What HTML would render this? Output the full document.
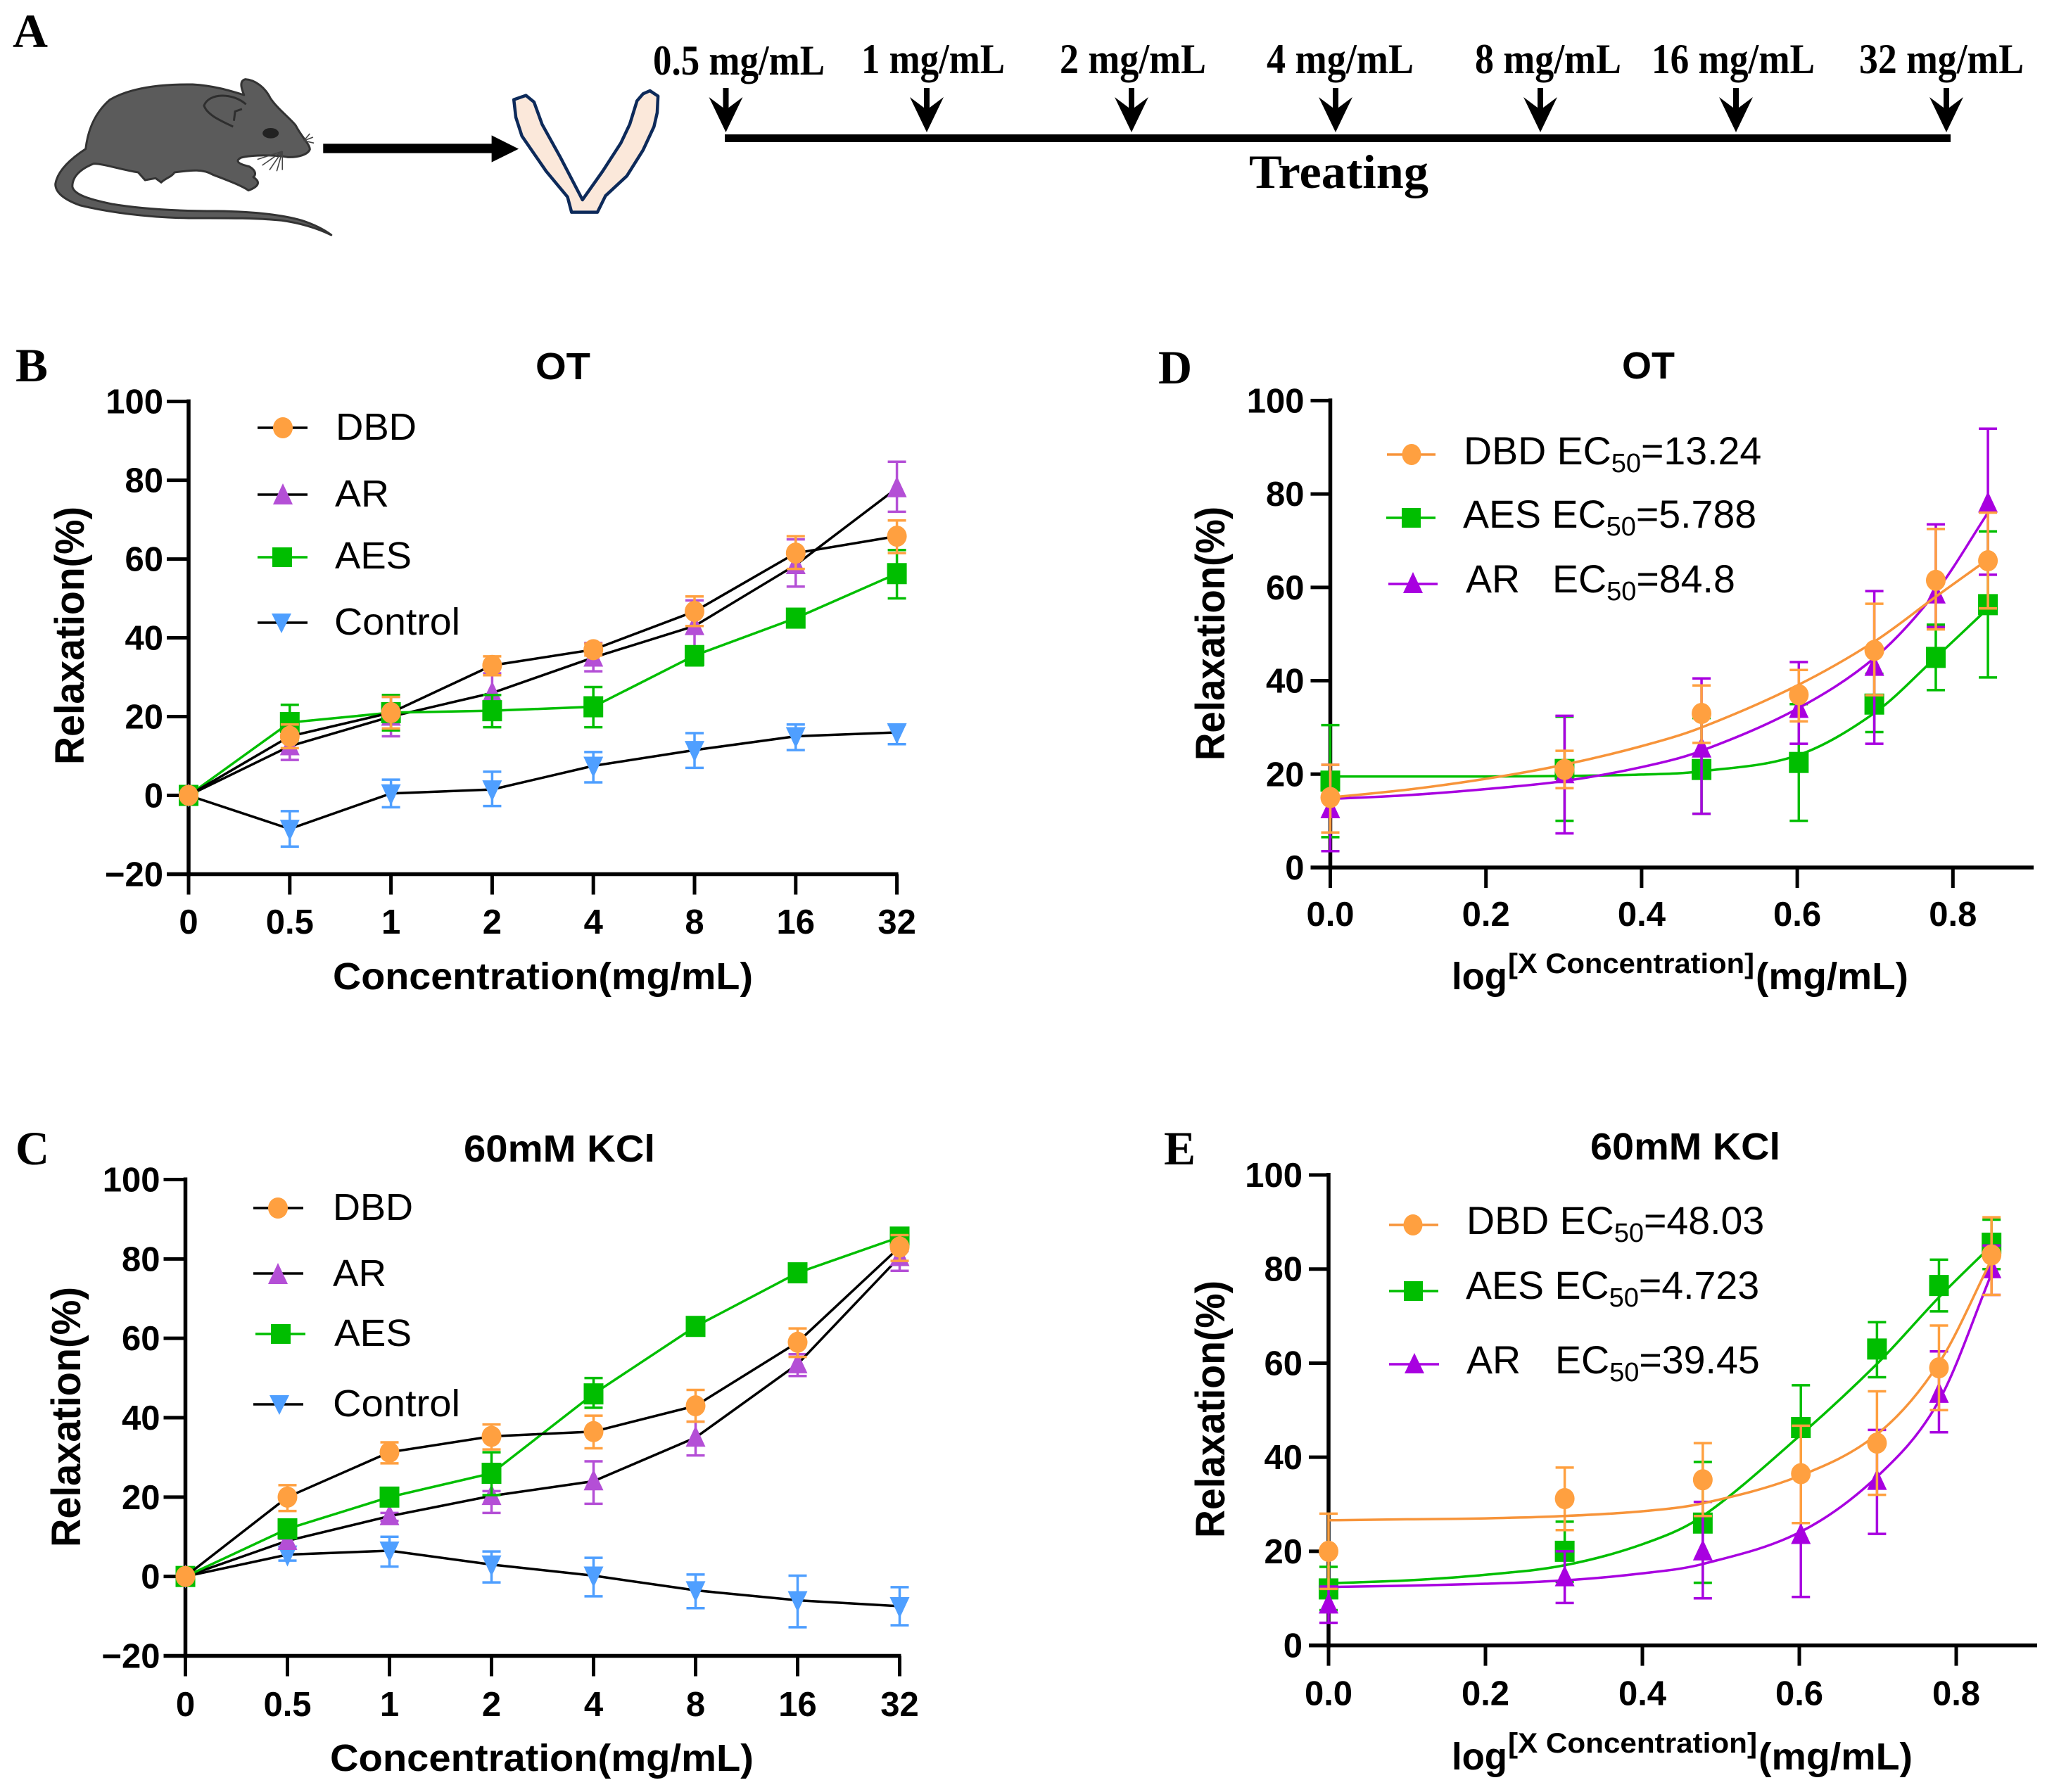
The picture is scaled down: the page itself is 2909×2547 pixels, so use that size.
<!DOCTYPE html>
<html lang="en">
<head>
<meta charset="utf-8">
<title>Relaxation dose-response figure</title>
<style>
html,body{margin:0;padding:0;background:#fff}
svg{display:block}
text{fill:#000;font-family:"Liberation Sans",sans-serif}
.letter{font-family:"Liberation Serif",serif;font-weight:700;font-size:68px}
.serif{font-family:"Liberation Serif",serif;font-weight:700;font-size:60px}
.treat{font-family:"Liberation Serif",serif;font-weight:700;font-size:68px}
.title,.axt{font-weight:700;font-size:54px}
.axty{font-weight:700;font-size:58px}
.sup{font-weight:700;font-size:40px}
.tick{font-weight:700;font-size:49px}
.leg{font-size:54px}
.leg2{font-size:55.5px}
.sub{font-size:38px}
</style>
</head>
<body>
<svg id="figure" xmlns="http://www.w3.org/2000/svg" width="2909" height="2547" viewBox="0 0 2909 2547">
<rect width="2909" height="2547" fill="#fff"/>

<g id="panel-a">
  <text class="letter" x="18" y="67" textLength="50" lengthAdjust="spacingAndGlyphs">A</text>
  <g transform="translate(50,80) scale(0.574,0.3333)">
    <path fill="#5b5b5b" stroke="#333" stroke-width="3" vector-effect="non-scaling-stroke" stroke-linejoin="round" d="M517,165 C510,135 505,105 520,98 C545,100 570,135 582,178 C600,225 635,270 645,295 C660,345 680,375 680,397 C675,420 650,432 625,430 C590,420 540,420 510,432 C495,445 500,458 530,470 C550,490 545,510 540,515 C558,535 555,555 528,572 C510,550 470,525 440,505 C415,480 390,485 345,495 C338,515 322,520 312,538 L298,520 L272,528 L255,495 C215,485 170,458 145,458 C115,478 92,510 92,555 C95,590 135,610 190,630 C260,650 340,660 450,660 C540,662 610,675 660,700 C695,720 720,745 733,762 C700,735 660,712 610,700 C540,688 460,690 380,690 C280,688 180,665 110,635 C70,610 50,580 50,545 C55,490 85,440 125,395 C130,320 145,245 185,185 C235,135 310,118 390,120 C440,125 480,145 517,165 Z"/>
    <path fill="none" stroke="#2e2e2e" stroke-width="3" vector-effect="non-scaling-stroke" d="M522,205 C490,155 430,155 418,210 C425,250 460,275 490,300 M492,275 L495,235 L512,225"/>
    <ellipse cx="583" cy="328" rx="20" ry="22" fill="#222"/>
    <path fill="none" stroke="#444" stroke-width="1.6" vector-effect="non-scaling-stroke" d="M612,405 L550,440 M612,405 L562,465 M612,405 L580,485 M612,405 L598,490 M612,405 L612,485 M665,360 L680,330 M665,360 L688,345 M665,360 L690,370"/>
  </g>
  <g transform="translate(50,80) scale(0.574,0.3333)">
    <rect x="713" y="373" width="420" height="40" fill="#000"/>
    <polygon points="1130,337 1197,395 1130,452" fill="#000"/>
    <path fill="#fbe8da" stroke="#0d2a5a" stroke-width="4.5" vector-effect="non-scaling-stroke" stroke-linejoin="round" d="M1185,185 L1215,167 L1235,195 L1255,290 L1300,430 L1355,612 L1405,490 L1450,370 L1472,290 L1490,190 L1505,160 L1522,147 L1542,170 L1540,240 L1532,300 L1505,400 L1465,510 L1412,595 L1392,665 L1328,665 L1318,600 L1265,490 L1205,340 L1190,260 Z"/>
  </g>

  <text class="serif" x="928" y="106" textLength="244" lengthAdjust="spacingAndGlyphs">0.5 mg/mL</text>
  <text class="serif" x="1224" y="104" textLength="204" lengthAdjust="spacingAndGlyphs">1 mg/mL</text>
  <text class="serif" x="1506" y="104" textLength="208" lengthAdjust="spacingAndGlyphs">2 mg/mL</text>
  <text class="serif" x="1800" y="104" textLength="209" lengthAdjust="spacingAndGlyphs">4 mg/mL</text>
  <text class="serif" x="2096" y="104" textLength="208" lengthAdjust="spacingAndGlyphs">8 mg/mL</text>
  <text class="serif" x="2347" y="104" textLength="232" lengthAdjust="spacingAndGlyphs">16 mg/mL</text>
  <text class="serif" x="2642" y="104" textLength="234" lengthAdjust="spacingAndGlyphs">32 mg/mL</text>

  <g fill="#000">
    <path transform="translate(1031.5,0)" d="M-4,125 H4 V153 L24,138 L0,188 L-24,138 L-4,153 Z"/>
    <path transform="translate(1317,0)" d="M-4,125 H4 V153 L24,138 L0,188 L-24,138 L-4,153 Z"/>
    <path transform="translate(1608,0)" d="M-4,125 H4 V153 L24,138 L0,188 L-24,138 L-4,153 Z"/>
    <path transform="translate(1898,0)" d="M-4,125 H4 V153 L24,138 L0,188 L-24,138 L-4,153 Z"/>
    <path transform="translate(2189,0)" d="M-4,125 H4 V153 L24,138 L0,188 L-24,138 L-4,153 Z"/>
    <path transform="translate(2467,0)" d="M-4,125 H4 V153 L24,138 L0,188 L-24,138 L-4,153 Z"/>
    <path transform="translate(2766,0)" d="M-4,125 H4 V153 L24,138 L0,188 L-24,138 L-4,153 Z"/>
  </g>
  <rect x="1030" y="191" width="1742" height="11" fill="#000"/>
  <text class="treat" x="1775" y="267" textLength="255" lengthAdjust="spacingAndGlyphs">Treating</text>
</g>

<g id="panel-b">
  <text class="letter" x="22" y="542" textLength="46" lengthAdjust="spacingAndGlyphs">B</text>
  <text class="title" x="761" y="539" textLength="78" lengthAdjust="spacingAndGlyphs">OT</text>
  <text class="axty" transform="translate(119,1087) rotate(-90)" textLength="367" lengthAdjust="spacingAndGlyphs">Relaxation(%)</text>
  <text class="axt" x="473" y="1406" textLength="597" lengthAdjust="spacingAndGlyphs">Concentration(mg/mL)</text>
  <g id="plot-b"></g>
  <g>
    <g><line x1="366" x2="437" y1="608" y2="608" stroke="#000" stroke-width="3.5"/><ellipse cx="402" cy="608" rx="14" ry="15" fill="#FFA040"/><text class="leg" x="477" y="625" textLength="115" lengthAdjust="spacingAndGlyphs">DBD</text></g>
    <g><line x1="366" x2="437" y1="703" y2="703" stroke="#000" stroke-width="3.5"/><polygon points="402,687 416,717 388,717" fill="#B44FD6"/><text class="leg" x="476" y="720" textLength="77" lengthAdjust="spacingAndGlyphs">AR</text></g>
    <g><line x1="366" x2="437" y1="792" y2="792" stroke="#00BE00" stroke-width="3.5"/><rect x="387" y="778" width="28" height="28" fill="#00BE00"/><text class="leg" x="476" y="808" textLength="109" lengthAdjust="spacingAndGlyphs">AES</text></g>
    <g><line x1="366" x2="437" y1="885" y2="885" stroke="#000" stroke-width="3.5"/><polygon points="400,900 386,872 414,872" fill="#4F9FFF"/><text class="leg" x="475" y="902" textLength="179" lengthAdjust="spacingAndGlyphs">Control</text></g>
  </g>
</g>

<g id="panel-c">
  <text class="letter" x="22" y="1655" textLength="48" lengthAdjust="spacingAndGlyphs">C</text>
  <text class="title" x="659" y="1651" textLength="272" lengthAdjust="spacingAndGlyphs">60mM KCl</text>
  <text class="axty" transform="translate(114,2199) rotate(-90)" textLength="370" lengthAdjust="spacingAndGlyphs">Relaxation(%)</text>
  <text class="axt" x="469" y="2517" textLength="602" lengthAdjust="spacingAndGlyphs">Concentration(mg/mL)</text>
  <g id="plot-c"></g>
  <g>
    <g><line x1="360" x2="431" y1="1717" y2="1717" stroke="#000" stroke-width="3.5"/><ellipse cx="395" cy="1717" rx="14" ry="15" fill="#FFA040"/><text class="leg" x="473" y="1734" textLength="114" lengthAdjust="spacingAndGlyphs">DBD</text></g>
    <g><line x1="360" x2="431" y1="1810" y2="1810" stroke="#000" stroke-width="3.5"/><polygon points="395,1795 409,1825 381,1825" fill="#B44FD6"/><text class="leg" x="473" y="1828" textLength="76" lengthAdjust="spacingAndGlyphs">AR</text></g>
    <g><line x1="363" x2="434" y1="1896" y2="1896" stroke="#00BE00" stroke-width="3.5"/><rect x="385" y="1882" width="28" height="28" fill="#00BE00"/><text class="leg" x="475" y="1913" textLength="110" lengthAdjust="spacingAndGlyphs">AES</text></g>
    <g><line x1="360" x2="431" y1="1996" y2="1996" stroke="#000" stroke-width="3.5"/><polygon points="397,2011 383,1983 411,1983" fill="#4F9FFF"/><text class="leg" x="473" y="2013" textLength="181" lengthAdjust="spacingAndGlyphs">Control</text></g>
  </g>
</g>

<g id="panel-d">
  <text class="letter" x="1646" y="545" textLength="48" lengthAdjust="spacingAndGlyphs">D</text>
  <text class="title" x="2305" y="538" textLength="75" lengthAdjust="spacingAndGlyphs">OT</text>
  <text class="axty" transform="translate(1740,1081) rotate(-90)" textLength="361" lengthAdjust="spacingAndGlyphs">Relaxation(%)</text>
  <g>
    <text class="axt" x="2063" y="1406" textLength="79" lengthAdjust="spacingAndGlyphs">log</text>
    <text class="sup" x="2143" y="1383" textLength="350" lengthAdjust="spacingAndGlyphs">[X Concentration]</text>
    <text class="axt" x="2495" y="1406" textLength="217" lengthAdjust="spacingAndGlyphs">(mg/mL)</text>
  </g>
  <g id="plot-d"></g>
  <g>
    <g><line x1="1971" x2="2040" y1="646" y2="646" stroke="#F7943A" stroke-width="3.5"/><ellipse cx="2006" cy="646" rx="13.5" ry="15" fill="#FFA040"/><text class="leg2" x="2080" y="660">DBD EC<tspan class="sub" dy="11">50</tspan><tspan dy="-11">=13.24</tspan></text></g>
    <g><line x1="1970" x2="2040" y1="736" y2="736" stroke="#00BE00" stroke-width="3.5"/><rect x="1992" y="722" width="27" height="28" fill="#00BE00"/><text class="leg2" x="2079" y="750">AES EC<tspan class="sub" dy="11">50</tspan><tspan dy="-11">=5.788</tspan></text></g>
    <g><line x1="1973" x2="2043" y1="830" y2="830" stroke="#A800E0" stroke-width="3.5"/><polygon points="2008,813 2022,843 1994,843" fill="#A800E0"/><text class="leg2" x="2083" y="842">AR<tspan x="2206">EC</tspan><tspan class="sub" dy="11">50</tspan><tspan dy="-11">=84.8</tspan></text></g>
  </g>
</g>

<g id="panel-e">
  <text class="letter" x="1654" y="1655" textLength="45" lengthAdjust="spacingAndGlyphs">E</text>
  <text class="title" x="2260" y="1648" textLength="270" lengthAdjust="spacingAndGlyphs">60mM KCl</text>
  <text class="axty" transform="translate(1740,2186) rotate(-90)" textLength="366" lengthAdjust="spacingAndGlyphs">Relaxation(%)</text>
  <g>
    <text class="axt" x="2063" y="2515" textLength="79" lengthAdjust="spacingAndGlyphs">log</text>
    <text class="sup" x="2143" y="2491" textLength="354" lengthAdjust="spacingAndGlyphs">[X Concentration]</text>
    <text class="axt" x="2499" y="2515" textLength="219" lengthAdjust="spacingAndGlyphs">(mg/mL)</text>
  </g>
  <g id="plot-e"></g>
  <g>
    <g><line x1="1974" x2="2044" y1="1741" y2="1741" stroke="#F7943A" stroke-width="3.5"/><ellipse cx="2008" cy="1741" rx="13.5" ry="15" fill="#FFA040"/><text class="leg2" x="2084" y="1754">DBD EC<tspan class="sub" dy="11">50</tspan><tspan dy="-11">=48.03</tspan></text></g>
    <g><line x1="1974" x2="2044" y1="1835" y2="1835" stroke="#00BE00" stroke-width="3.5"/><rect x="1995" y="1821" width="27" height="28" fill="#00BE00"/><text class="leg2" x="2083" y="1846">AES EC<tspan class="sub" dy="11">50</tspan><tspan dy="-11">=4.723</tspan></text></g>
    <g><line x1="1974" x2="2045" y1="1939" y2="1939" stroke="#A800E0" stroke-width="3.5"/><polygon points="2010,1923 2024,1952 1996,1952" fill="#A800E0"/><text class="leg2" x="2084" y="1952">AR<tspan x="2210">EC</tspan><tspan class="sub" dy="11">50</tspan><tspan dy="-11">=39.45</tspan></text></g>
  </g>
</g>
</svg>

<script>
// ---- shared tick labels ----
const concentrationCategories = ['0', '0.5', '1', '2', '4', '8', '16', '32'];
const yTicksWide = [-20, 0, 20, 40, 60, 80, 100];
const yTicksFit = [0, 20, 40, 60, 80, 100];
const xTicksFit = [0, 0.2, 0.4, 0.6, 0.8];
const logDose = [0, 0.301, 0.477, 0.602, 0.699, 0.778, 0.845];
const fitDose = [0, 0.1, 0.2, 0.3, 0.4, 0.477, 0.6, 0.7, 0.778, 0.845];

// ---- panel B: OT, concentration ----
const bDbd = [0, 15, 21, 33, 37, 46.7, 61.5, 65.8];
const bDbdUp = [0, 18, 25, 35.3, 38.5, 50.5, 65.8, 69.8];
const bDbdLo = [0, 12, 17, 30.5, 35.5, 43, 57.5, 61.5];
const bAr = [0, 12.5, 20, 26, 35, 43, 58.5, 78];
const bArUp = [0, 16, 25, 31, 38.7, 49.5, 65, 84.7];
const bArLo = [0, 9, 15, 21, 31.5, 37, 53, 72];
const bAes = [0, 18.5, 21, 21.5, 22.5, 35.5, 45, 56.3];
const bAesUp = [0, 23, 25.5, 25.5, 27.5, 37, 47, 62.3];
const bAesLo = [0, 14, 16.5, 17.3, 17.3, 33, 43, 50];
const bCtl = [0, -8.5, 0.5, 1.5, 7.5, 11.5, 15, 16];
const bCtlUp = [0, -4, 4, 6, 11, 15.8, 18, 18];
const bCtlLo = [0, -13, -3, -2.7, 3.3, 7, 11.5, 13];

// ---- panel C: 60mM KCl, concentration ----
const cDbd = [0, 20, 31.3, 35.3, 36.5, 43, 59, 83];
const cDbdUp = [0, 23, 33.8, 38.3, 40.5, 47, 62.5, 86];
const cDbdLo = [0, 16.5, 28.5, 32, 32.3, 39, 55.3, 79.5];
const cAr = [0, 9, 15.2, 20.3, 24, 35, 53.5, 80.5];
const cArUp = [0, 9.5, 16, 21.5, 29, 39, 56, 82];
const cArLo = [0, 7, 14, 16, 18.3, 30.5, 50.5, 77];
const cAes = [0, 12, 20, 26, 46, 63, 76.5, 85.5];
const cAesUp = [0, 14, 22, 31.3, 50, 64, 77.5, 87];
const cAesLo = [0, 10, 18, 20.5, 42.5, 62, 75.5, 84];
const cCtl = [0, 5.5, 6.5, 3, 0.2, -3.5, -6, -7.5];
const cCtlUp = [0, 7, 10, 6.3, 4.7, 0.5, 0.2, -2.7];
const cCtlLo = [0, 4, 2.5, -1.5, -5, -8, -12.8, -12.3];

// ---- panel D: OT, log dose ----
const dDbd = [15, 21, 33, 37, 46.5, 61.5, 65.7];
const dDbdUp = [22, 25, 39, 42.3, 56.5, 72.5, 76];
const dDbdLo = [7.5, 17, 26.7, 31.3, 36.9, 51, 55.5];
const dDbdFit = [15, 16.7, 19, 22, 26, 30, 39, 48.5, 58, 66];
const dAes = [18.5, 21, 21, 22.5, 35, 45, 56.3];
const dAesUp = [30.5, 32.3, 32, 35, 41.5, 52, 72];
const dAesLo = [6.5, 10, 11.5, 10, 29, 38, 40.7];
const dAesFit = [19.5, 19.5, 19.5, 19.6, 19.9, 20.6, 24, 33.2, 45, 55.5];
const dAr = [12.5, 20, 25.5, 34, 43, 58.5, 78];
const dArUp = [22, 32.5, 40.5, 44, 59.2, 73.5, 94];
const dArLo = [3.5, 7.3, 11.5, 26.5, 26.5, 51.5, 62.7];
const dArFit = [14.7, 15.5, 16.8, 18.5, 21.5, 25, 34, 45, 59, 76];

// ---- panel E: 60mM KCl, log dose ----
const eDbd = [20, 31.2, 35.2, 36.5, 43, 59, 83];
const eDbdUp = [28, 37.8, 43, 46.7, 54, 68, 91];
const eDbdLo = [12, 24.5, 27.5, 26, 32, 50, 74.5];
const eDbdFit = [26.6, 26.8, 27, 27.5, 28.5, 30.2, 36, 45, 60, 82];
const eAes = [12, 20, 26, 46.3, 63, 76.5, 85.5];
const eAesUp = [16.7, 26.3, 39, 55.3, 68.7, 82, 90.5];
const eAesLo = [7.5, 13.5, 13.3, 37, 57, 71, 80];
const eAesFit = [13.2, 13.8, 15, 17, 21.5, 27.5, 44.5, 60, 74, 85];
const eAr = [8.7, 14.5, 20, 23.5, 35, 53.5, 80];
const eArUp = [12.5, 20, 30.5, 36.5, 45.8, 62.5, 85];
const eArLo = [4.8, 9, 10, 10.3, 23.7, 45.3, 74.5];
const eArFit = [12.4, 12.7, 13.1, 13.8, 15.3, 17.3, 24, 36, 52, 79];

var ORANGE = '#FFA040', ORANGE_LINE = '#F7943A', GREEN = '#00BE00', LILAC = '#B44FD6', PURPLE = '#A800E0', BLUE = '#4F9FFF';
var NS = 'http://www.w3.org/2000/svg';

function mk(tag, attrs, parent) {
  var node = document.createElementNS(NS, tag);
  for (var k in attrs) node.setAttribute(k, attrs[k]);
  parent.appendChild(node);
  return node;
}

function smoothPath(pts) {
  var d = 'M' + pts[0][0].toFixed(1) + ',' + pts[0][1].toFixed(1);
  for (var i = 0; i < pts.length - 1; i++) {
    var p0 = pts[Math.max(i - 1, 0)], p1 = pts[i], p2 = pts[i + 1], p3 = pts[Math.min(i + 2, pts.length - 1)];
    var h = (p2[0] - p1[0]) / 3;
    var s1 = (p2[1] - p0[1]) / ((p2[0] - p0[0]) || 1);
    var s2 = (p3[1] - p1[1]) / ((p3[0] - p1[0]) || 1);
    d += ' C' + (p1[0] + h).toFixed(1) + ',' + (p1[1] + s1 * h).toFixed(1) + ' ' + (p2[0] - h).toFixed(1) + ',' + (p2[1] - s2 * h).toFixed(1) + ' ' + p2[0].toFixed(1) + ',' + p2[1].toFixed(1);
  }
  return d;
}

function drawMarker(shape, x, y, color, parent) {
  var m;
  if (shape === 'circle') {
    m = mk('ellipse', { cx: x, cy: y, rx: 14, ry: 15, fill: color }, parent);
  } else if (shape === 'square') {
    m = mk('rect', { x: x - 14, y: y - 15, width: 28, height: 30, fill: color }, parent);
  } else if (shape === 'up') {
    m = mk('polygon', { points: x + ',' + (y - 17) + ' ' + (x + 14) + ',' + (y + 13) + ' ' + (x - 14) + ',' + (y + 13), fill: color }, parent);
  } else {
    m = mk('polygon', { points: x + ',' + (y + 17) + ' ' + (x + 14) + ',' + (y - 13) + ' ' + (x - 14) + ',' + (y - 13), fill: color }, parent);
  }
  
  
}

function drawAxes(root, cfg) {
  var axes = mk('g', {}, root);
  
  

  var yLine = mk('line', { x1: cfg.axisX, x2: cfg.axisX, y1: cfg.yPx(cfg.yTicks[cfg.yTicks.length - 1]) - 3, y2: cfg.yPx(cfg.yTicks[0]) + 3, stroke: '#000', 'stroke-width': 5.5 }, axes);
  
  

  var xLine = mk('line', { x1: cfg.xLineStart, x2: cfg.xLineEnd, y1: cfg.yPx(cfg.yTicks[0]), y2: cfg.yPx(cfg.yTicks[0]), stroke: '#000', 'stroke-width': 5.5 }, axes);
  
  

  cfg.yTicks.forEach(function (v) {
    var y = cfg.yPx(v);
    var t = mk('line', { x1: cfg.axisX - cfg.tickLen, x2: cfg.axisX, y1: y, y2: y, stroke: '#000', 'stroke-width': 5 }, axes);
    
    
    var l = mk('text', { x: cfg.axisX - cfg.labelGap, y: y + 17, 'text-anchor': 'end', 'class': 'tick' }, axes);
    
    
    l.textContent = v < 0 ? '\u2212' + Math.abs(v) : String(v);
  });

  cfg.xTicks.forEach(function (v, i) {
    var x = cfg.xTickPx(v, i);
    var base = cfg.yPx(cfg.yTicks[0]);
    var t = mk('line', { x1: x, x2: x, y1: base, y2: base + 29, stroke: '#000', 'stroke-width': 5 }, axes);
    
    
    var l = mk('text', { x: x, y: cfg.xLabelY, 'text-anchor': 'middle', 'class': 'tick' }, axes);
    
    
    l.textContent = cfg.xFormat(v);
  });
}

function drawSeries(root, cfg, s) {
  var g = mk('g', {}, root);
  
  

  var pts;
  if (s.fit) {
    pts = s.fit.map(function (v, i) { return [cfg.xPx(fitDose[i]), cfg.yPx(v)]; });
  } else {
    pts = s.mean.map(function (v, i) { return [cfg.xPx(i), cfg.yPx(v)]; });
  }

  s.mean.forEach(function (v, i) {
    var px = s.fit ? cfg.xPx(logDose[i]) : cfg.xPx(i);
    if (s.upper[i] === s.lower[i]) return;
    var yU = cfg.yPx(s.upper[i]), yL = cfg.yPx(s.lower[i]);
    var bar = mk('path', {
      d: 'M' + (px - 13) + ',' + yU + ' H' + (px + 13) + ' M' + px + ',' + yU + ' V' + yL + ' M' + (px - 13) + ',' + yL + ' H' + (px + 13),
      fill: 'none', stroke: s.color, 'stroke-width': 3.5
    }, g);
    
    
  });

  var line;
  if (s.fit) {
    line = mk('path', { d: smoothPath(pts), fill: 'none', stroke: s.lineColor, 'stroke-width': 3.5 }, g);
    
  } else {
    line = mk('polyline', { points: pts.map(function (p) { return p.join(','); }).join(' '), fill: 'none', stroke: s.lineColor, 'stroke-width': 3.5 }, g);
    
  }
  

  s.mean.forEach(function (v, i) {
    var px = s.fit ? cfg.xPx(logDose[i]) : cfg.xPx(i);
    drawMarker(s.shape, px, cfg.yPx(v), s.color, g);
  });
}

function concentrationPanel(rootId, x0, step, y100, yMinus20, xLabelY, seriesList) {
  var unit = (yMinus20 - y100) / 120;
  var cfg = {
    axisX: x0, tickLen: 31, labelGap: 36, xLabelY: xLabelY,
    xLineStart: x0 - 31, xLineEnd: x0 + step * 7 + 2,
    yTicks: yTicksWide, xTicks: concentrationCategories,
    yPx: function (v) { return y100 + (100 - v) * unit; },
    xPx: function (i) { return x0 + i * step; },
    xTickPx: function (v, i) { return x0 + i * step; },
    xFormat: function (v) { return v; }
  };
  var root = document.getElementById(rootId);
  drawAxes(root, cfg);
  seriesList.forEach(function (s) { drawSeries(root, cfg, s); });
}

function fitPanel(rootId, x0, per02, y100, y0, xEnd, xLabelY, seriesList) {
  var unit = (y0 - y100) / 100;
  var xPx = function (v) { return x0 + v / 0.2 * per02; };
  var cfg = {
    axisX: x0, tickLen: 28, labelGap: 37, xLabelY: xLabelY,
    xLineStart: x0 - 28, xLineEnd: xEnd,
    yTicks: yTicksFit, xTicks: xTicksFit,
    yPx: function (v) { return y100 + (100 - v) * unit; },
    xPx: xPx,
    xTickPx: function (v) { return xPx(v); },
    xFormat: function (v) { return v.toFixed(1); }
  };
  var root = document.getElementById(rootId);
  drawAxes(root, cfg);
  seriesList.forEach(function (s) { drawSeries(root, cfg, s); });
}

concentrationPanel('plot-b', 268, 143.8, 570.6, 1242.5, 1327, [
  { name: 'control', mean: bCtl, upper: bCtlUp, lower: bCtlLo, color: BLUE, lineColor: '#000', shape: 'down' },
  { name: 'ar', mean: bAr, upper: bArUp, lower: bArLo, color: LILAC, lineColor: '#000', shape: 'up' },
  { name: 'aes', mean: bAes, upper: bAesUp, lower: bAesLo, color: GREEN, lineColor: GREEN, shape: 'square' },
  { name: 'dbd', mean: bDbd, upper: bDbdUp, lower: bDbdLo, color: ORANGE, lineColor: '#000', shape: 'circle' }
]);

concentrationPanel('plot-c', 263.5, 145, 1676.5, 2353.5, 2439, [
  { name: 'control', mean: cCtl, upper: cCtlUp, lower: cCtlLo, color: BLUE, lineColor: '#000', shape: 'down' },
  { name: 'ar', mean: cAr, upper: cArUp, lower: cArLo, color: LILAC, lineColor: '#000', shape: 'up' },
  { name: 'aes', mean: cAes, upper: cAesUp, lower: cAesLo, color: GREEN, lineColor: GREEN, shape: 'square' },
  { name: 'dbd', mean: cDbd, upper: cDbdUp, lower: cDbdLo, color: ORANGE, lineColor: '#000', shape: 'circle' }
]);

fitPanel('plot-d', 1890.5, 221.2, 569.4, 1233, 2890, 1316, [
  { name: 'aes', mean: dAes, upper: dAesUp, lower: dAesLo, fit: dAesFit, color: GREEN, lineColor: GREEN, shape: 'square' },
  { name: 'ar', mean: dAr, upper: dArUp, lower: dArLo, fit: dArFit, color: PURPLE, lineColor: PURPLE, shape: 'up' },
  { name: 'dbd', mean: dDbd, upper: dDbdUp, lower: dDbdLo, fit: dDbdFit, color: ORANGE, lineColor: ORANGE_LINE, shape: 'circle' }
]);

fitPanel('plot-e', 1888, 223, 1670, 2338.6, 2895, 2423.6, [
  { name: 'aes', mean: eAes, upper: eAesUp, lower: eAesLo, fit: eAesFit, color: GREEN, lineColor: GREEN, shape: 'square' },
  { name: 'ar', mean: eAr, upper: eArUp, lower: eArLo, fit: eArFit, color: PURPLE, lineColor: PURPLE, shape: 'up' },
  { name: 'dbd', mean: eDbd, upper: eDbdUp, lower: eDbdLo, fit: eDbdFit, color: ORANGE, lineColor: ORANGE_LINE, shape: 'circle' }
]);
</script>
</body>
</html>
